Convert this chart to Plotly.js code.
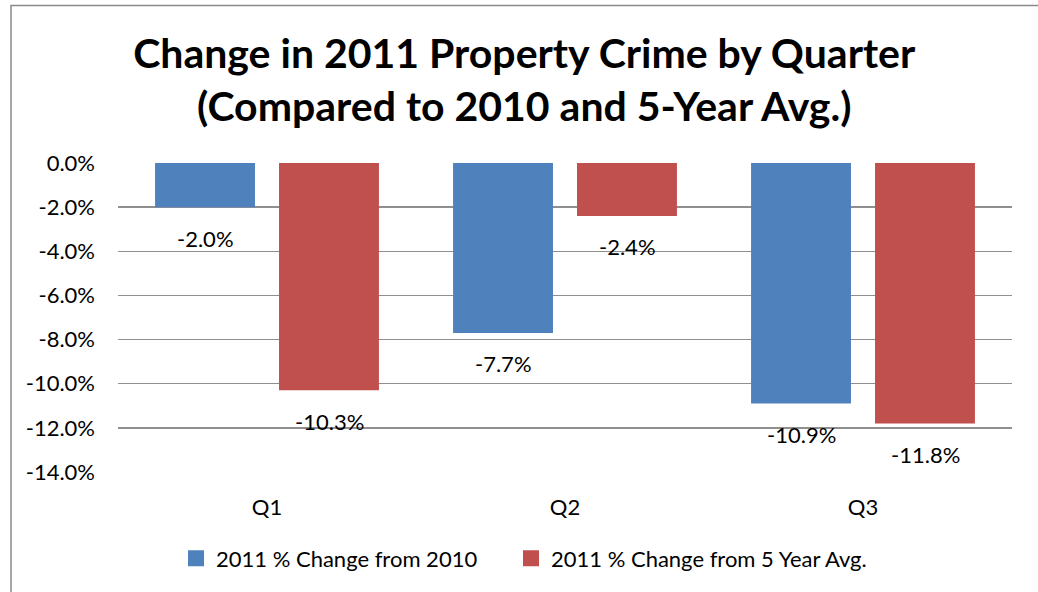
<!DOCTYPE html>
<html>
<head>
<meta charset="utf-8">
<script src="https://cdn.plot.ly/plotly-3.0.1.min.js"></script>
<style>html,body{margin:0;padding:0;background:#fff;}#chart{width:1038px;height:592px;}</style>
</head>
<body>
<div id="chart"></div>
<script>
const categories = ['Q1', 'Q2', 'Q3'];
const seriesNames = ['2011 % Change from 2010', '2011 % Change from 5 Year Avg.'];
const changeFrom2010 = [-2.0, -7.7, -10.9];
const changeFrom5YrAvg = [-10.3, -2.4, -11.8];
const tickValues = [0, -2, -4, -6, -8, -10, -12, -14];
const tickLabels = ['0.0%', '-2.0%', '-4.0%', '-6.0%', '-8.0%', '-10.0%', '-12.0%', '-14.0%'];

const colors = ['#4F81BD', '#C0504D'];
const FONT = 'Lato, Calibri, "Liberation Sans", sans-serif';
const seriesValues = [changeFrom2010, changeFrom5YrAvg];
const legendIds = ['legend', 'legend2'];

const traces = [];
seriesValues.forEach((vals, i) => {
  traces.push({
    type: 'bar', x: categories, y: vals, name: seriesNames[i],
    marker: {color: colors[i]}, showlegend: false, hoverinfo: 'x+y'
  });
});
// legend proxies (larger square swatches), one legend box each for exact spacing
seriesValues.forEach((vals, i) => {
  traces.push({
    type: 'scatter', mode: 'markers', x: [null], y: [null], name: seriesNames[i],
    marker: {color: colors[i], symbol: 'square', size: 16}, showlegend: true,
    legend: legendIds[i]
  });
});

const annotations = [];
const offsets = [-62, 62];
seriesValues.forEach((vals, i) => {
  vals.forEach((v, j) => {
    annotations.push({
      x: categories[j], y: v, xref: 'x', yref: 'y',
      text: v.toFixed(1) + '%', showarrow: false,
      xshift: offsets[i], yshift: -31, yanchor: 'middle',
      font: {family: FONT, size: 22, color: '#000'}
    });
  });
});

const legendBase = {
  orientation: 'h', xanchor: 'left', y: -0.28, yanchor: 'middle',
  font: {family: FONT, size: 22, color: '#000'}, itemwidth: 30,
  bgcolor: 'rgba(0,0,0,0)', borderwidth: 0
};

const layout = {
  width: 1038, height: 592,
  paper_bgcolor: '#fff', plot_bgcolor: '#fff',
  margin: {l: 118, r: 26, t: 162.7, b: 120},
  title: {
    text: '<b>Change in 2011 Property Crime by Quarter<br>(Compared to 2010 and 5-Year Avg.)</b>',
    x: 0.505, xanchor: 'center', y: 0.885, yanchor: 'middle',
    font: {family: FONT, size: 41, color: '#000'}
  },
  barmode: 'group', bargap: 0.168, bargroupgap: 0.194,
  xaxis: {
    type: 'category', showgrid: false, zeroline: false, showline: false,
    ticks: '', ticklabelstandoff: 20,
    tickfont: {family: FONT, size: 22, color: '#000'}
  },
  yaxis: {
    range: [-14, 0], tickvals: tickValues, ticktext: tickLabels,
    showgrid: true, gridcolor: '#8f8f8f', gridwidth: 1.3,
    zeroline: false, showline: false, ticks: '', ticklabelstandoff: 22,
    tickfont: {family: FONT, size: 22, color: '#000'}
  },
  legend: Object.assign({}, legendBase, {x: 0.0649}),
  legend2: Object.assign({}, legendBase, {x: 0.4396}),
  annotations: annotations,
  shapes: [{
    type: 'rect', xref: 'paper', yref: 'paper',
    x0: -0.1197, x1: 1.1, y0: -0.5, y1: 1.51,
    line: {color: '#8a8a8a', width: 1.5}, fillcolor: 'rgba(0,0,0,0)', layer: 'below'
  }],
  showlegend: true
};

Plotly.newPlot('chart', traces, layout, {displayModeBar: false, staticPlot: true});
</script>
</body>
</html>
